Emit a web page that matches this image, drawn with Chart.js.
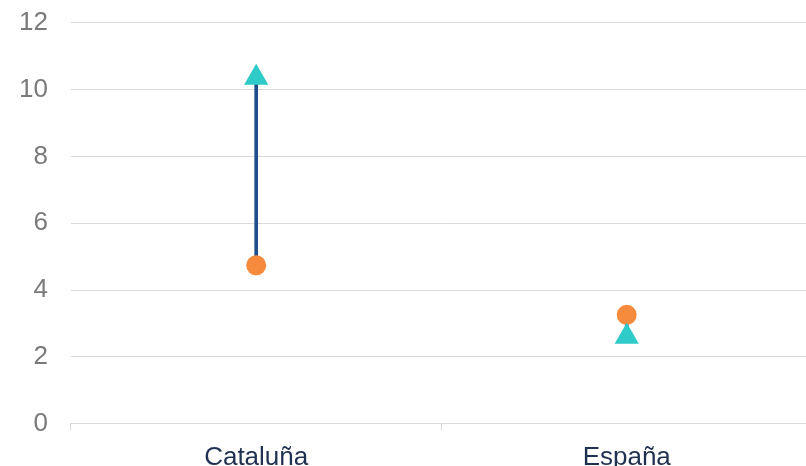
<!DOCTYPE html>
<html>
<head>
<meta charset="utf-8">
<script src="https://cdn.jsdelivr.net/npm/chart.js@4"></script>
<style>
  html, body { margin: 0; padding: 0; background: #fff; overflow: hidden; }
  #wrap { width: 806px; height: 466px; overflow: hidden; }
  #dumbbell { display: block; margin-left: -22px; margin-top: -16px; }
</style>
</head>
<body>
<div id="wrap"><canvas id="dumbbell" width="848" height="501"></canvas></div>
<script>
// Regions and the two values per region
const regions = ['Cataluña', 'España'];
const circleValues = [4.74, 3.26];
const triangleValues = [10.35, 2.6];
const yTicks = [0, 2, 4, 6, 8, 10, 12];

// connector between the two markers as a floating bar
const ranges = regions.map((r, i) => [circleValues[i], triangleValues[i]]);

const ctx = document.getElementById('dumbbell').getContext('2d');
new Chart(ctx, {
    type: 'bar',
    data: {
        labels: regions,
        datasets: [
            {
                type: 'bar',
                data: ranges,
                backgroundColor: '#1f4e89',
                barThickness: 3,
                order: 3
            },
            {
                type: 'line',
                data: circleValues,
                showLine: false,
                pointStyle: 'circle',
                pointRadius: 10,
                pointBackgroundColor: '#f78b3d',
                pointBorderWidth: 0,
                order: 2
            },
            {
                type: 'line',
                data: triangleValues,
                showLine: false,
                pointStyle: 'triangle',
                pointRadius: 14,
                pointBackgroundColor: '#2ecbc8',
                pointBorderWidth: 0,
                order: 1
            }
        ]
    },
    options: {
        responsive: false,
        animation: false,
        layout: { padding: { left: 18, top: 0, right: 0, bottom: 0 } },
        plugins: { legend: { display: false }, tooltip: { enabled: false } },
        scales: {
            x: {
                offset: true,
                grid: {
                    offset: true,
                    drawOnChartArea: false,
                    color: '#d9d9d9',
                    tickLength: 6
                },
                border: { color: '#d9d9d9' },
                ticks: {
                    color: '#1f3050',
                    padding: 12,
                    font: { family: 'Liberation Sans, Arial, sans-serif', size: 26 }
                }
            },
            y: {
                min: 0,
                max: 12,
                afterBuildTicks: axis => { axis.ticks = yTicks.map(v => ({ value: v })); },
                grid: { color: '#d9d9d9', drawTicks: false },
                border: { display: false },
                ticks: {
                    color: '#7a7a7a',
                    padding: 23,
                    font: { family: 'Liberation Sans, Arial, sans-serif', size: 26 }
                }
            }
        }
    }
});
</script>
</body>
</html>
